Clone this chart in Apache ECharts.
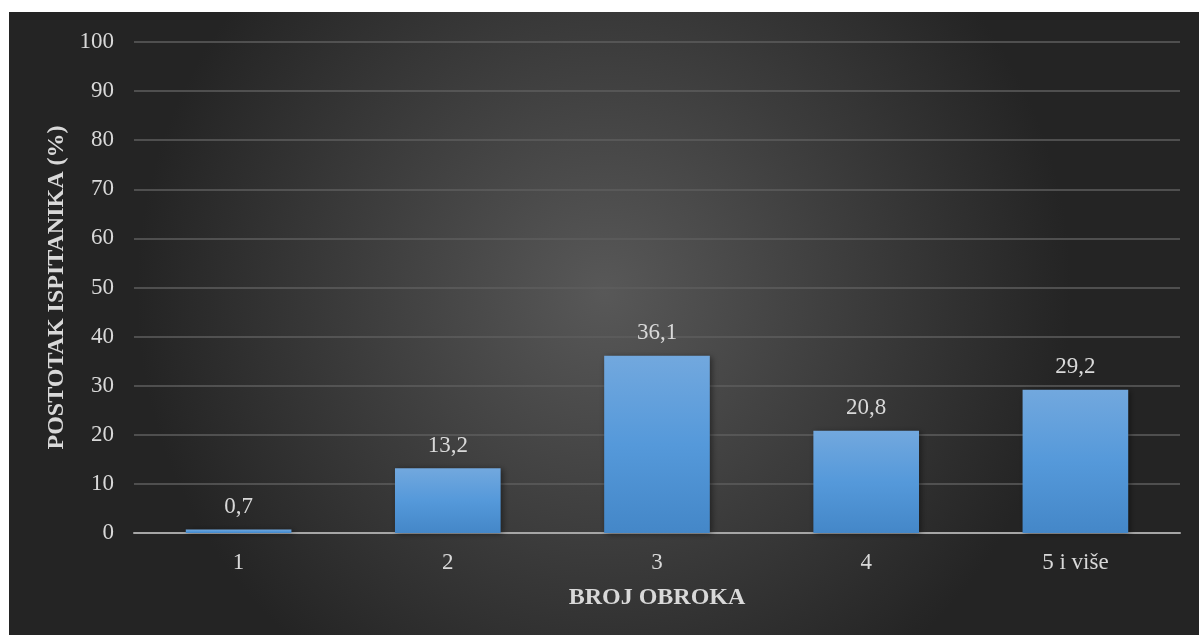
<!DOCTYPE html>
<html>
<head>
<meta charset="utf-8">
<script src="https://cdn.jsdelivr.net/npm/echarts@6/dist/echarts.min.js"></script>
<style>
html,body{margin:0;padding:0;background:#fff;}
#c{width:1199px;height:635px;}
</style>
</head>
<body>
<div id="c"></div>
<script>
const categories = ['1', '2', '3', '4', '5 i više'];
const values = [0.7, 13.2, 36.1, 20.8, 29.2];
const yTitle = 'POSTOTAK ISPITANIKA (%)';
const xTitle = 'BROJ OBROKA';

const chart = echarts.init(document.getElementById('c'));
const font = '"Liberation Serif", "Times New Roman", serif';
chart.setOption({
  backgroundColor: '#ffffff',
  animation: false,
  graphic: [{
    type: 'rect', z: -10, silent: true,
    shape: {x: 9, y: 12, width: 1190, height: 623},
    style: {
      fill: new echarts.graphic.RadialGradient(0.5, 0.45, 0.75, [
        {offset: 0, color: '#585858'},
        {offset: 1, color: '#242424'}
      ])
    }
  }],
  grid: {left: 134, right: 19, top: 42, bottom: 102},
  xAxis: {
    type: 'category',
    data: categories,
    name: xTitle,
    nameLocation: 'middle',
    nameGap: 53,
    nameTextStyle: {color: '#d9d9d9', fontFamily: font, fontSize: 24, fontWeight: 'bold'},
    axisLine: {lineStyle: {color: '#a6a6a6', width: 2}},
    axisTick: {show: false},
    axisLabel: {color: '#d9d9d9', fontFamily: font, fontSize: 23, margin: 18}
  },
  yAxis: {
    type: 'value',
    min: 0, max: 100, interval: 10,
    name: yTitle,
    nameLocation: 'middle',
    nameGap: 62,
    nameTextStyle: {color: '#d9d9d9', fontFamily: font, fontSize: 24, fontWeight: 'bold'},
    axisLine: {show: false},
    axisTick: {show: false},
    axisLabel: {color: '#d9d9d9', fontFamily: font, fontSize: 23, margin: 20},
    splitLine: {lineStyle: {color: '#5e5e5e', width: 1.5}}
  },
  series: [{
    type: 'bar',
    data: values,
    barWidth: '50.5%',
    itemStyle: {
      color: new echarts.graphic.LinearGradient(0, 0, 0, 1, [
        {offset: 0, color: '#72a8de'},
        {offset: 0.5, color: '#5599da'},
        {offset: 1, color: '#4487c8'}
      ]),
      shadowBlur: 6,
      shadowColor: 'rgba(0,0,0,0.45)',
      shadowOffsetX: 2,
      shadowOffsetY: 1
    },
    label: {
      show: true,
      position: 'top',
      distance: 11,
      color: '#d9d9d9',
      fontFamily: font,
      fontSize: 23,
      formatter: p => String(p.value).replace('.', ',')
    }
  }]
});
</script>
</body>
</html>
